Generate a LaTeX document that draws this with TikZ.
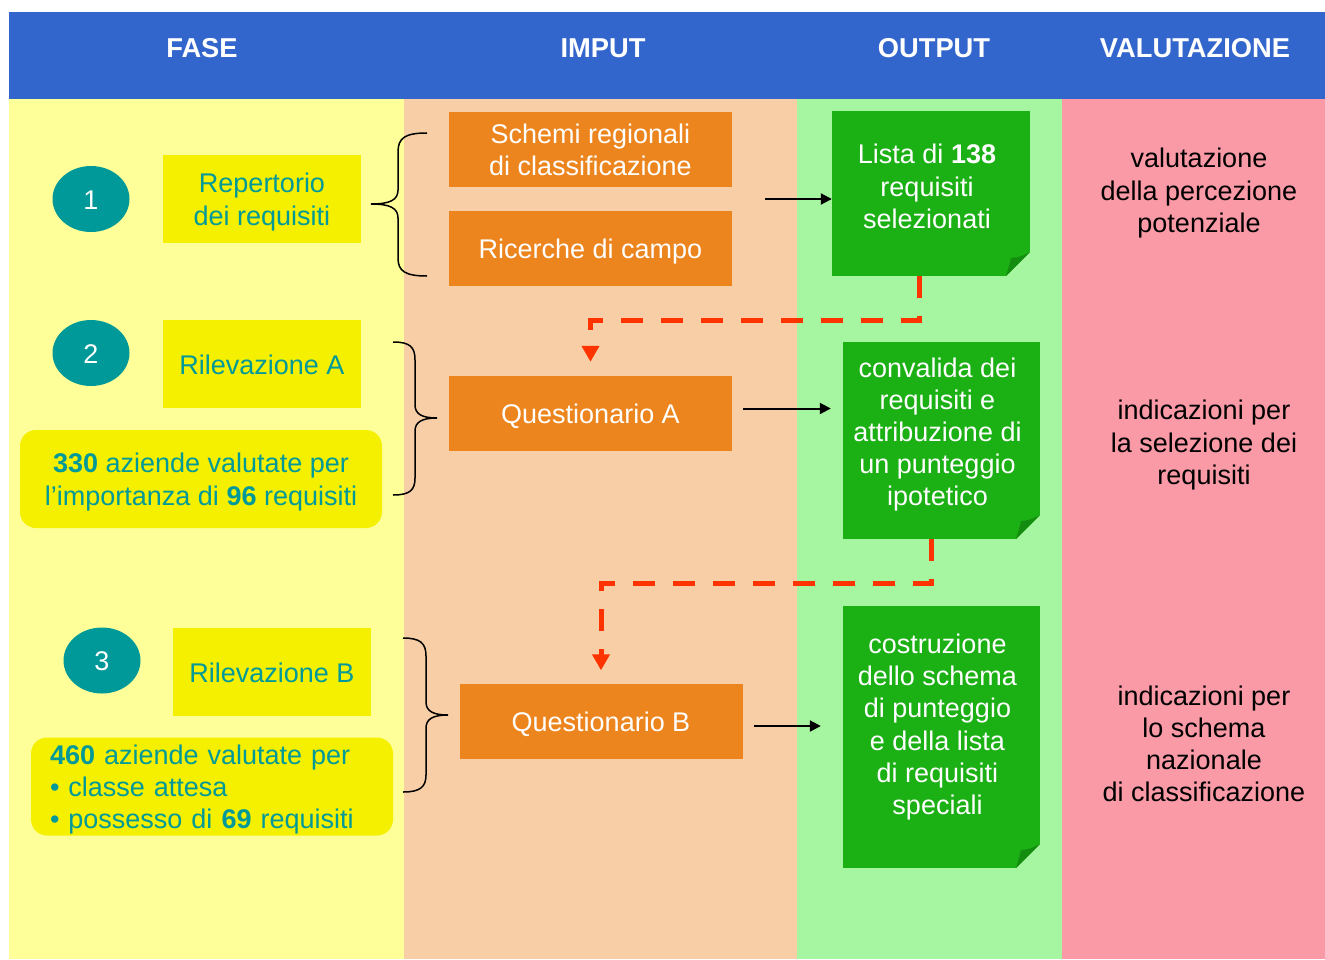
\documentclass[tikz,border=0pt]{standalone}
\usepackage{fontspec}
\setmainfont{Liberation Sans}
\usetikzlibrary{shapes.geometric,arrows.meta,positioning}
\definecolor{headblue}{HTML}{3366CC}
\definecolor{faseyellow}{HTML}{FFFF99}
\definecolor{imputpeach}{HTML}{F8CEA6}
\definecolor{outputgreen}{HTML}{A6F5A0}
\definecolor{valpink}{HTML}{F99AA6}
\definecolor{boxyellow}{HTML}{F5F000}
\definecolor{tealtxt}{HTML}{009999}
\definecolor{boxorange}{HTML}{ED851E}
\definecolor{boxgreen}{HTML}{1BB014}
\definecolor{foldgreen}{HTML}{148C0F}
\definecolor{dashred}{HTML}{FF3300}

\begin{document}
\begin{tikzpicture}[x=1pt,y=-1pt,
		every node/.style={font=\fontsize{27}{32.2}\selectfont,text height=25pt,text depth=5pt},
		twolines/.style={text height=57.2pt},
		threelines/.style={text height=89.4pt},
		fourlines/.style={text height=121.6pt},
		fivelines/.style={text height=153.8pt},
		sixlines/.style={text height=186pt},
		parlines/.style={text depth=69.4pt},
		headtxt/.style={text=white,font=\fontsize{27.3}{32.2}\selectfont\bfseries},
		numdot/.style={ellipse,fill=tealtxt,text=white,minimum width=77pt,minimum height=66pt,inner sep=0pt},
		phasebox/.style={fill=boxyellow,text=tealtxt,align=center,minimum width=198pt,minimum height=88pt},
		samplebox/.style={fill=boxyellow,text=tealtxt,rounded corners=16pt,minimum width=362pt,minimum height=98pt,inner ysep=1pt},
		inbox/.style={fill=boxorange,text=white,align=center,minimum width=283pt,minimum height=75pt,inner ysep=1pt},
		outbox/.style={fill=boxgreen,minimum width=197pt,path picture={
			\fill[outputgreen] (path picture bounding box.south east) -- ([xshift=-24pt]path picture bounding box.south east) -- ([yshift=24pt]path picture bounding box.south east) -- cycle;
			\fill[foldgreen] ([xshift=-24pt]path picture bounding box.south east) .. controls ([xshift=-21pt,yshift=10pt]path picture bounding box.south east) .. ([xshift=-19pt,yshift=18pt]path picture bounding box.south east) .. controls ([xshift=-10pt,yshift=19pt]path picture bounding box.south east) .. ([yshift=24pt]path picture bounding box.south east) -- cycle;}},
		outtxt/.style={text=white,align=center},
		evaltxt/.style={text=black,align=center},
		flowarrow/.style={line width=2pt,-{Triangle[width=11pt,length=11pt]}},
		backarrow/.style={draw=dashred,line width=5pt,dash pattern=on 22pt off 18pt,-{Triangle[width=17pt,length=16pt]}},
		bracepath/.style={line width=1.5pt}]
	\fill[white] (0,0) rectangle (1325,959);
	\useasboundingbox (0,0) rectangle (1325,959);
	\fill[headblue] (9,12) rectangle (1325,99);
	\foreach \xa/\xb/\c in {9/404/faseyellow,404/797/imputpeach,797/1062/outputgreen,1062/1325/valpink}
		\fill[\c] (\xa,99) rectangle (\xb,959);
	\foreach \x/\t/\n in {202/FASE/fase,603/IMPUT/imput,934/OUTPUT/output,1195/VALUTAZIONE/val}
		\node[headtxt] (h\n) at (\x,47) {\t};

	\node[numdot] (n1) at (91,199) {1};
	\node[phasebox,twolines] (rep) at (262,199) {Repertorio\\dei requisiti};
	\node[numdot] (n2) at (91,353) {2};
	\node[phasebox] (rilA) at (262,364) {Rilevazione A};
	\node[samplebox,twolines,align=center] (aziA) at (201,479) {\textbf{330} aziende valutate per\\l’importanza di \textbf{96} requisiti};
	\node[numdot] (n3) at (102,660.5) {3};
	\node[phasebox] (rilB) at (272,672) {Rilevazione B};
	\node[samplebox,parlines,align=left,text width=324pt,inner xsep=19pt] (aziB) at (212,786.5) {\textbf{460} aziende valutate per\\• classe attesa\\• possesso di \textbf{69} requisiti};

	\node[inbox,twolines] (schemi) at (590.5,149.5) {Schemi regionali\\di classificazione};
	\node[inbox] (ricerche) at (590.5,248.5) {Ricerche di campo};
	\node[inbox] (qA) at (590.5,413.5) {Questionario A};
	\node[inbox] (qB) at (601,721) {Questionario B};

	\node[outbox,minimum width=198pt,minimum height=165pt] (out1) at (931,193.5) {};
	\node[outtxt,threelines] (out1txt) at ([xshift=-4pt,yshift=7.5pt]out1.center) {Lista di \textbf{138}\\requisiti\\selezionati};
	\node[outbox,minimum height=197pt] (out2) at (941.5,440.5) {};
	\node[outtxt,fivelines] (out2txt) at ([xshift=-4pt,yshift=9pt]out2.center) {convalida dei\\requisiti e\\attribuzione di\\un punteggio\\ipotetico};
	\node[outbox,minimum height=262pt] (out3) at (941.5,737) {};
	\node[outtxt,sixlines] (out3txt) at ([xshift=-4pt,yshift=13pt]out3.center) {costruzione\\dello schema\\di punteggio\\e della lista\\di requisiti\\speciali};

	\node[evaltxt,threelines] (v1) at (1199,190) {valutazione\\della percezione\\potenziale};
	\node[evaltxt,threelines] (v2) at (1204,442) {indicazioni per\\la selezione dei\\requisiti};
	\node[evaltxt,fourlines] (v3) at (1204,743.5) {indicazioni per\\lo schema\\nazionale\\di classificazione};

	\draw[bracepath] (427,133) .. controls (405,133) and (398,138) .. (398,152) -- (398,190) .. controls (398,200) and (390,204) .. (371,204) .. controls (390,204) and (398,208) .. (398,218) -- (398,258) .. controls (398,271) and (405,276) .. (427,276);
	\draw[bracepath] (393,342) .. controls (410,342) and (415,347) .. (415,360) -- (415,405) .. controls (415,414) and (422,418) .. (437,418) .. controls (422,418) and (415,422) .. (415,431) -- (415,478) .. controls (415,490) and (410,495) .. (393,495);
	\draw[bracepath] (403,638) .. controls (420,638) and (426,643) .. (426,656) -- (426,702) .. controls (426,711) and (433,715) .. (448,715) .. controls (433,715) and (426,719) .. (426,728) -- (426,775) .. controls (426,787) and (420,792) .. (403,792);

	\coordinate (inAB) at (765,199);
	\draw[flowarrow] (inAB) -- (inAB -| out1.west);
	\draw[flowarrow,shorten <=11pt,shorten >=12pt] ([yshift=5pt]qA.east) -- ([yshift=5pt]qA.east -| out2.west);
	\draw[flowarrow,shorten <=11pt,shorten >=22pt] ([yshift=-5pt]qB.east) -- ([yshift=-5pt]qB.east -| out3.west);
	\draw[backarrow] ([xshift=-12pt]out1.south) -- ++(0,44) -| ([yshift=14pt]qA.north);
	\draw[backarrow] ([xshift=-10.5pt]out2.south) -- ++(0,44) -| ([yshift=13pt]qB.north);
\end{tikzpicture}
\end{document}
